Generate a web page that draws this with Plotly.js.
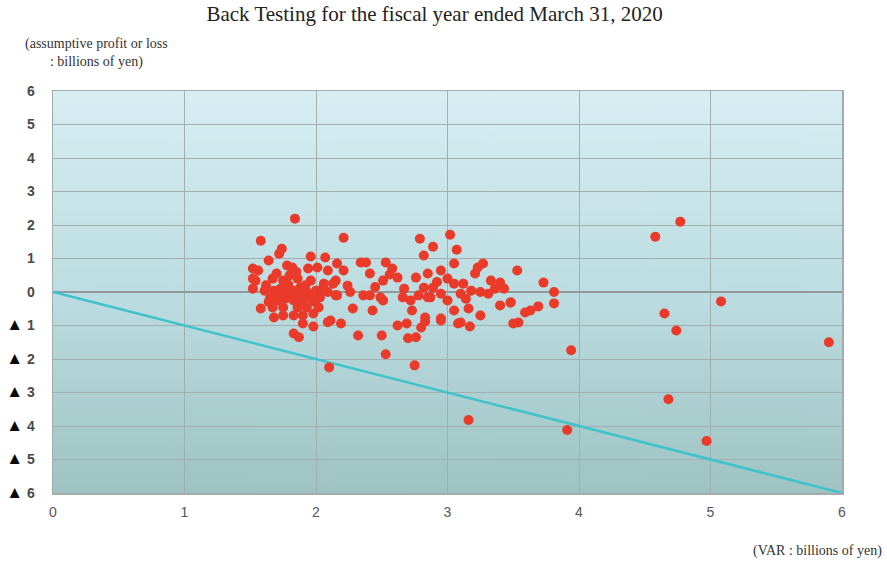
<!DOCTYPE html>
<html>
<head>
<meta charset="utf-8">
<script src="https://cdn.plot.ly/plotly-3.0.1.min.js"></script>
<style>html,body{margin:0;padding:0;background:#fff;}#chart{width:887px;height:565px;}</style>
</head>
<body>
<div id="chart"></div>
<script>
// VaR (billions of yen) for each day
var varValues = [
 1.84,1.58,2.21,2.79,3.02,2.89,3.07,4.58,4.77,5.08,4.65,4.74,5.90,3.94,4.68,3.91,4.97,3.16,2.10,2.75,2.53,
 2.32,2.50,1.83,1.87,1.98,2.09,2.19,2.62,2.69,2.70,2.76,2.80,2.83,2.95,3.08,3.17,
 3.53,3.73,3.81,3.81,3.69,3.63,3.59,3.54,3.50,3.48,
 2.82,3.05,3.27,3.23,3.21,2.95,2.85,3.33,3.40,3.43,3.12,3.18,3.25,3.31,3.10,3.05,3.00,2.89,2.82,2.95,3.00,2.87,3.40,3.48,3.16,3.25,3.05,2.95,2.83,3.10,
 2.16,2.34,2.38,2.53,2.41,2.21,2.58,2.62,2.51,2.15,2.24,2.26,2.16,2.36,2.41,2.49,2.67,2.76,2.78,2.72,2.85,2.66,2.28,2.43,2.51,2.73,2.11,
 1.74,1.72,1.64,1.96,2.07,1.52,1.56,1.78,1.82,1.94,2.01,2.09,1.54,1.52,1.67,1.75,1.86,1.96,2.06,2.13,1.61,1.68,1.73,1.78,1.83,1.88,1.93,2.00,2.09,2.15,
 1.65,1.71,1.77,1.83,1.90,1.96,2.03,1.58,1.67,1.75,1.86,1.93,2.02,1.68,1.75,1.83,1.90,1.98,1.90,1.52,
 1.62,1.70,1.80,1.88,1.72,1.79,1.85,1.92,1.99,1.64,1.81,2.05,2.45,2.56,2.92,3.14,3.36
];
// assumptive profit or loss (billions of yen), minus = loss
var profitLoss = [
 2.19,1.53,1.62,1.59,1.71,1.35,1.26,1.65,2.10,-0.28,-0.64,-1.15,-1.50,-1.74,-3.20,-4.12,-4.45,-3.82,-2.25,-2.19,-1.86,
 -1.30,-1.30,-1.24,-1.35,-1.03,-0.90,-0.94,-1.00,-0.94,-1.38,-1.35,-1.06,-0.88,-0.85,-0.94,-1.03,
 0.64,0.28,0.00,-0.34,-0.43,-0.55,-0.61,-0.91,-0.94,-0.31,
 1.09,0.85,0.85,0.73,0.55,0.64,0.55,0.34,0.28,0.10,0.25,0.04,0.00,-0.05,-0.05,0.25,0.40,0.13,0.13,-0.05,-0.25,-0.16,-0.40,-0.31,-0.49,-0.70,-0.55,-0.79,-0.76,-0.91,
 0.85,0.88,0.88,0.88,0.55,0.64,0.70,0.43,0.34,0.34,0.19,0.00,-0.10,-0.10,-0.10,-0.16,0.10,0.43,-0.10,-0.25,-0.16,-0.16,-0.49,-0.55,-0.25,-0.55,-0.85,
 1.29,1.14,0.94,1.06,1.03,0.70,0.64,0.79,0.73,0.70,0.73,0.64,0.34,0.10,0.40,0.34,0.40,0.34,0.25,0.25,0.04,0.04,0.10,0.00,0.04,0.13,0.00,0.04,0.00,-0.10,
 -0.19,-0.25,-0.19,-0.25,-0.25,-0.19,-0.16,-0.49,-0.46,-0.46,-0.46,-0.46,-0.46,-0.76,-0.70,-0.70,-0.70,-0.64,-0.94,0.40,
 0.20,0.55,0.50,-0.05,-0.10,0.22,0.60,0.20,-0.30,-0.30,-0.12,0.10,0.15,0.52,0.30,-0.20,0.10
];
// reference line: loss equal to VaR
var lineX = [0, 6];
var lineY = [0, -6];

var xTickVals = [0,1,2,3,4,5,6];
var xTickText = ['0','1','2','3','4','5','6'];
var yTickVals = [6,5,4,3,2,1,0,-1,-2,-3,-4,-5,-6];
var yTickNums = ['6','5','4','3','2','1','0','1','2','3','4','5','6'];
var yTickText = yTickVals.map(function(v,i){
  return v < 0 ? '<span style="color:#0a0a0a;font-size:17px">▲</span> ' + yTickNums[i] : yTickNums[i];
});

// vertical gradient background for the plot area
var cv = document.createElement('canvas');
cv.width = 10; cv.height = 400;
var ctx = cv.getContext('2d');
var g = ctx.createLinearGradient(0,0,0,400);
g.addColorStop(0,'#d7eef3');
g.addColorStop(0.5,'#bcdde1');
g.addColorStop(1,'#9fc3c3');
ctx.fillStyle = g; ctx.fillRect(0,0,10,400);
var bgUrl = cv.toDataURL('image/png');

var traces = [
 {x: lineX, y: lineY, mode:'lines', type:'scatter', line:{color:'#3fc2cb', width:2.5}, hoverinfo:'skip'},
 {x: varValues, y: profitLoss, mode:'markers', type:'scatter', marker:{color:'#ea3a2a', size:10, line:{width:0}}}
];

var layout = {
  width:887, height:565,
  margin:{l:53, r:45, t:91, b:72},
  paper_bgcolor:'#ffffff',
  plot_bgcolor:'rgba(0,0,0,0)',
  showlegend:false,
  title:{text:'Back Testing for the fiscal year ended March 31, 2020', x:0.49, xanchor:'center', y:0.975, yanchor:'middle',
         font:{family:'Liberation Serif, Times New Roman, serif', size:21, color:'#222'}},
  xaxis:{range:[0,6], tickvals:xTickVals, ticktext:xTickText, showgrid:true, gridcolor:'#a2aeb0', gridwidth:1,
         zeroline:false, showline:true, mirror:true, linecolor:'#a3abad', linewidth:1.5, ticks:'', ticklabelstandoff:6,
         tickfont:{family:'Liberation Sans Narrow, Arial Narrow, sans-serif', size:14, color:'#555'}, fixedrange:true},
  yaxis:{range:[-6,6], tickvals:yTickVals, ticktext:yTickText, showgrid:true, gridcolor:'#a2aeb0', gridwidth:1,
         zeroline:true, zerolinecolor:'#8e9a9c', zerolinewidth:1.5, showline:true, mirror:true, linecolor:'#a3abad', linewidth:1.5,
         ticks:'', ticklabelstandoff:14,
         tickfont:{family:'Liberation Sans, Arial, sans-serif', size:14, color:'#4a4a4a', weight:'bold'}, fixedrange:true},
  images:[{source:bgUrl, xref:'paper', yref:'paper', x:0, y:1, sizex:1, sizey:1, sizing:'stretch', xanchor:'left', yanchor:'top', layer:'below'}],
  annotations:[
    {text:'(assumptive profit or loss<br>: billions of yen)', xref:'paper', yref:'paper', x:0.055, y:1.094, xanchor:'center', yanchor:'middle',
     showarrow:false, align:'center', font:{family:'Liberation Serif, Times New Roman, serif', size:14, color:'#333'}},
    {text:'(VAR : billions of yen)', xref:'paper', yref:'paper', x:1.053, y:-0.145, xanchor:'right', yanchor:'middle',
     showarrow:false, font:{family:'Liberation Serif, Times New Roman, serif', size:14, color:'#333'}}
  ]
};

Plotly.newPlot('chart', traces, layout, {displayModeBar:false, staticPlot:true});
</script>
</body>
</html>
